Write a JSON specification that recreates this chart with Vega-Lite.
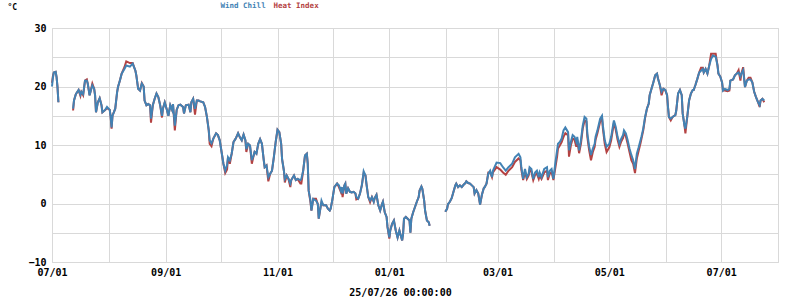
{
  "$schema": "https://vega.github.io/schema/vega-lite/v6.json",
  "autosize": {"type": "none"},
  "width": 726,
  "height": 234,
  "padding": {"left": 52, "top": 28, "right": 22, "bottom": 38},
  "background": "white",
  "config": {
    "view": {"stroke": "#d9d9d9", "strokeWidth": 1},
    "axis": {
      "labelFont": "DejaVu Sans Mono", "labelFontWeight": "bold", "labelFontSize": 10, "labelColor": "#000000",
      "titleFont": "DejaVu Sans Mono", "titleFontWeight": "bold", "titleColor": "#000000",
      "gridColor": "#d9d9d9", "gridWidth": 1, "gridOpacity": 1, "domain": false, "ticks": false
    }
  },
  "data": {"values": [
    {"t":"2025-07-01","w":20.0,"h":20.6},
    {"t":"2025-07-01T12:00Z","w":21.5,"h":21.8},
    {"t":"2025-07-02","w":22.4,"h":22.4},
    {"t":"2025-07-03","w":22.5,"h":22.5},
    {"t":"2025-07-03T12:00Z","w":21.6,"h":21.6},
    {"t":"2025-07-04","w":19.9,"h":19.9},
    {"t":"2025-07-04T12:00Z","w":17.3,"h":17.3},
    {"t":"2025-07-08","w":null,"h":null},
    {"t":"2025-07-12T12:00Z","w":16.2,"h":15.9},
    {"t":"2025-07-13","w":17.6,"h":17.6},
    {"t":"2025-07-14","w":18.7,"h":18.7},
    {"t":"2025-07-15T12:00Z","w":19.4,"h":19.4},
    {"t":"2025-07-16T12:00Z","w":18.6,"h":18.4},
    {"t":"2025-07-17","w":19.1,"h":19.1},
    {"t":"2025-07-18","w":18.7,"h":18.5},
    {"t":"2025-07-19","w":21.0,"h":21.0},
    {"t":"2025-07-20","w":21.0,"h":21.2},
    {"t":"2025-07-20T12:00Z","w":20.5,"h":20.5},
    {"t":"2025-07-21T12:00Z","w":18.5,"h":18.5},
    {"t":"2025-07-22","w":19.1,"h":19.1},
    {"t":"2025-07-23","w":20.2,"h":20.5},
    {"t":"2025-07-24","w":19.6,"h":19.6},
    {"t":"2025-07-24T12:00Z","w":18.5,"h":18.5},
    {"t":"2025-07-25","w":15.6,"h":15.6},
    {"t":"2025-07-26","w":17.3,"h":17.3},
    {"t":"2025-07-27","w":18.0,"h":18.0},
    {"t":"2025-07-28","w":16.8,"h":16.8},
    {"t":"2025-07-28T12:00Z","w":15.6,"h":15.6},
    {"t":"2025-07-30","w":16.0,"h":16.0},
    {"t":"2025-07-31","w":16.5,"h":16.3},
    {"t":"2025-08-01T12:00Z","w":16.0,"h":16.0},
    {"t":"2025-08-02","w":14.8,"h":14.8},
    {"t":"2025-08-02T12:00Z","w":13.0,"h":12.8},
    {"t":"2025-08-03","w":15.0,"h":15.0},
    {"t":"2025-08-04T12:00Z","w":16.2,"h":16.2},
    {"t":"2025-08-05T12:00Z","w":19.0,"h":19.0},
    {"t":"2025-08-06","w":19.9,"h":19.9},
    {"t":"2025-08-07","w":21.0,"h":21.0},
    {"t":"2025-08-08","w":22.2,"h":22.2},
    {"t":"2025-08-09T12:00Z","w":23.0,"h":23.3},
    {"t":"2025-08-10T12:00Z","w":23.6,"h":24.3},
    {"t":"2025-08-12T12:00Z","w":23.4,"h":24.0},
    {"t":"2025-08-14","w":23.9,"h":24.0},
    {"t":"2025-08-15T12:00Z","w":22.7,"h":22.7},
    {"t":"2025-08-16","w":21.9,"h":21.9},
    {"t":"2025-08-17","w":19.6,"h":19.6},
    {"t":"2025-08-18","w":19.3,"h":19.3},
    {"t":"2025-08-19","w":20.5,"h":20.6},
    {"t":"2025-08-20","w":20.0,"h":20.0},
    {"t":"2025-08-20T12:00Z","w":17.6,"h":17.6},
    {"t":"2025-08-21T12:00Z","w":16.8,"h":16.8},
    {"t":"2025-08-22T12:00Z","w":17.0,"h":17.0},
    {"t":"2025-08-23T12:00Z","w":16.8,"h":16.8},
    {"t":"2025-08-24","w":14.5,"h":13.8},
    {"t":"2025-08-25","w":16.8,"h":16.8},
    {"t":"2025-08-26","w":17.9,"h":17.9},
    {"t":"2025-08-27","w":18.8,"h":18.8},
    {"t":"2025-08-28","w":18.2,"h":18.2},
    {"t":"2025-08-29","w":16.8,"h":16.8},
    {"t":"2025-08-30","w":15.0,"h":14.7},
    {"t":"2025-08-30T12:00Z","w":16.2,"h":16.2},
    {"t":"2025-08-31T12:00Z","w":17.3,"h":17.3},
    {"t":"2025-09-01T12:00Z","w":16.2,"h":16.2},
    {"t":"2025-09-02T12:00Z","w":15.0,"h":15.0},
    {"t":"2025-09-03T12:00Z","w":16.8,"h":16.8},
    {"t":"2025-09-04T12:00Z","w":16.0,"h":16.0},
    {"t":"2025-09-05","w":17.0,"h":17.0},
    {"t":"2025-09-06","w":13.3,"h":12.5},
    {"t":"2025-09-07","w":16.0,"h":16.0},
    {"t":"2025-09-08","w":16.8,"h":16.8},
    {"t":"2025-09-09","w":16.9,"h":16.9},
    {"t":"2025-09-10T12:00Z","w":16.5,"h":16.5},
    {"t":"2025-09-11","w":15.4,"h":15.4},
    {"t":"2025-09-12","w":16.8,"h":16.8},
    {"t":"2025-09-13T12:00Z","w":16.9,"h":16.9},
    {"t":"2025-09-14T12:00Z","w":15.6,"h":15.6},
    {"t":"2025-09-15","w":17.3,"h":17.3},
    {"t":"2025-09-16","w":17.9,"h":17.9},
    {"t":"2025-09-17","w":16.2,"h":15.2},
    {"t":"2025-09-18","w":17.6,"h":17.6},
    {"t":"2025-09-19","w":17.6,"h":17.6},
    {"t":"2025-09-19T12:00Z","w":17.5,"h":17.5},
    {"t":"2025-09-21T12:00Z","w":17.3,"h":17.3},
    {"t":"2025-09-22T12:00Z","w":16.5,"h":16.5},
    {"t":"2025-09-23T12:00Z","w":14.8,"h":14.8},
    {"t":"2025-09-24T12:00Z","w":12.5,"h":12.5},
    {"t":"2025-09-25","w":10.8,"h":10.2},
    {"t":"2025-09-26","w":10.3,"h":9.8},
    {"t":"2025-09-27","w":11.1,"h":11.1},
    {"t":"2025-09-28T12:00Z","w":12.0,"h":12.0},
    {"t":"2025-09-29T12:00Z","w":11.7,"h":11.7},
    {"t":"2025-09-30T12:00Z","w":10.8,"h":10.8},
    {"t":"2025-10-01T12:00Z","w":8.8,"h":8.8},
    {"t":"2025-10-02T12:00Z","w":6.8,"h":6.8},
    {"t":"2025-10-03T12:00Z","w":5.6,"h":5.2},
    {"t":"2025-10-04T12:00Z","w":6.6,"h":5.8},
    {"t":"2025-10-05","w":7.9,"h":7.9},
    {"t":"2025-10-06","w":7.4,"h":6.8},
    {"t":"2025-10-07","w":8.5,"h":8.5},
    {"t":"2025-10-08","w":10.5,"h":10.5},
    {"t":"2025-10-09","w":11.0,"h":11.0},
    {"t":"2025-10-09T12:00Z","w":11.3,"h":11.3},
    {"t":"2025-10-10T12:00Z","w":12.0,"h":12.0},
    {"t":"2025-10-11T12:00Z","w":11.3,"h":11.3},
    {"t":"2025-10-12T12:00Z","w":10.8,"h":10.8},
    {"t":"2025-10-13T12:00Z","w":11.8,"h":11.8},
    {"t":"2025-10-14T12:00Z","w":10.8,"h":10.8},
    {"t":"2025-10-15","w":9.3,"h":8.8},
    {"t":"2025-10-16","w":10.2,"h":10.2},
    {"t":"2025-10-17","w":9.9,"h":9.9},
    {"t":"2025-10-18","w":7.4,"h":6.8},
    {"t":"2025-10-19","w":8.2,"h":8.2},
    {"t":"2025-10-19T12:00Z","w":8.8,"h":8.8},
    {"t":"2025-10-20T12:00Z","w":8.5,"h":8.5},
    {"t":"2025-10-21T12:00Z","w":10.2,"h":10.2},
    {"t":"2025-10-22T12:00Z","w":11.0,"h":11.0},
    {"t":"2025-10-23T12:00Z","w":10.2,"h":10.2},
    {"t":"2025-10-24T12:00Z","w":7.4,"h":7.4},
    {"t":"2025-10-25","w":6.2,"h":6.2},
    {"t":"2025-10-26","w":6.5,"h":6.5},
    {"t":"2025-10-27","w":4.5,"h":3.8},
    {"t":"2025-10-28","w":5.1,"h":5.1},
    {"t":"2025-10-29","w":5.6,"h":5.6},
    {"t":"2025-10-30","w":7.9,"h":7.9},
    {"t":"2025-10-31","w":10.5,"h":10.5},
    {"t":"2025-11-01","w":12.6,"h":12.6},
    {"t":"2025-11-02","w":12.2,"h":12.2},
    {"t":"2025-11-03","w":10.2,"h":10.2},
    {"t":"2025-11-03T12:00Z","w":7.6,"h":7.6},
    {"t":"2025-11-04T12:00Z","w":5.6,"h":5.6},
    {"t":"2025-11-05","w":4.2,"h":3.6},
    {"t":"2025-11-06","w":4.8,"h":4.8},
    {"t":"2025-11-07","w":4.2,"h":4.2},
    {"t":"2025-11-08","w":3.4,"h":2.8},
    {"t":"2025-11-08T12:00Z","w":4.0,"h":4.0},
    {"t":"2025-11-10","w":4.8,"h":4.8},
    {"t":"2025-11-11","w":4.0,"h":4.0},
    {"t":"2025-11-12","w":4.2,"h":4.2},
    {"t":"2025-11-13T12:00Z","w":4.0,"h":3.4},
    {"t":"2025-11-14","w":4.2,"h":3.4},
    {"t":"2025-11-15","w":5.6,"h":5.6},
    {"t":"2025-11-16","w":8.2,"h":8.2},
    {"t":"2025-11-17","w":8.5,"h":8.5},
    {"t":"2025-11-17T12:00Z","w":6.8,"h":6.8},
    {"t":"2025-11-18","w":2.2,"h":2.2},
    {"t":"2025-11-19","w":0.5,"h":0.2},
    {"t":"2025-11-19T12:00Z","w":-1.2,"h":-1.2},
    {"t":"2025-11-20T12:00Z","w":0.8,"h":0.8},
    {"t":"2025-11-22","w":0.5,"h":0.8},
    {"t":"2025-11-23","w":-0.1,"h":-0.1},
    {"t":"2025-11-23T12:00Z","w":-2.6,"h":-2.6},
    {"t":"2025-11-24T12:00Z","w":-0.6,"h":-0.6},
    {"t":"2025-11-25","w":0.5,"h":0.2},
    {"t":"2025-11-26","w":-0.3,"h":-0.3},
    {"t":"2025-11-27T12:00Z","w":-0.3,"h":-0.3},
    {"t":"2025-11-28T12:00Z","w":-0.9,"h":-0.9},
    {"t":"2025-11-29T12:00Z","w":-1.2,"h":-1.2},
    {"t":"2025-11-30","w":-0.9,"h":-0.9},
    {"t":"2025-12-01","w":0.8,"h":0.8},
    {"t":"2025-12-02","w":2.8,"h":2.8},
    {"t":"2025-12-03T12:00Z","w":3.4,"h":3.4},
    {"t":"2025-12-04T12:00Z","w":3.1,"h":2.8},
    {"t":"2025-12-05T12:00Z","w":2.2,"h":2.0},
    {"t":"2025-12-06","w":2.8,"h":2.8},
    {"t":"2025-12-06T12:00Z","w":1.7,"h":1.1},
    {"t":"2025-12-07T12:00Z","w":3.1,"h":3.1},
    {"t":"2025-12-08","w":3.4,"h":3.4},
    {"t":"2025-12-08T12:00Z","w":1.7,"h":1.7},
    {"t":"2025-12-09T12:00Z","w":2.6,"h":2.6},
    {"t":"2025-12-10T12:00Z","w":2.0,"h":2.0},
    {"t":"2025-12-11T12:00Z","w":1.9,"h":1.9},
    {"t":"2025-12-12T12:00Z","w":2.0,"h":2.0},
    {"t":"2025-12-13T12:00Z","w":1.7,"h":1.7},
    {"t":"2025-12-14","w":1.1,"h":0.7},
    {"t":"2025-12-15","w":0.8,"h":0.8},
    {"t":"2025-12-16","w":1.7,"h":1.7},
    {"t":"2025-12-17","w":3.1,"h":3.1},
    {"t":"2025-12-17T12:00Z","w":4.2,"h":4.2},
    {"t":"2025-12-18","w":5.5,"h":5.2},
    {"t":"2025-12-19","w":4.8,"h":4.8},
    {"t":"2025-12-19T12:00Z","w":3.4,"h":3.4},
    {"t":"2025-12-20T12:00Z","w":1.1,"h":1.1},
    {"t":"2025-12-21T12:00Z","w":0.5,"h":0.2},
    {"t":"2025-12-22T12:00Z","w":1.1,"h":1.1},
    {"t":"2025-12-23T12:00Z","w":0.3,"h":0.3},
    {"t":"2025-12-24","w":0.9,"h":0.9},
    {"t":"2025-12-25","w":1.5,"h":1.5},
    {"t":"2025-12-26","w":-0.3,"h":-0.3},
    {"t":"2025-12-27","w":-1.2,"h":-1.2},
    {"t":"2025-12-28","w":-0.1,"h":-0.1},
    {"t":"2025-12-28T12:00Z","w":0.3,"h":0.3},
    {"t":"2025-12-29T12:00Z","w":-1.5,"h":-1.5},
    {"t":"2025-12-30T12:00Z","w":-2.3,"h":-2.3},
    {"t":"2025-12-31","w":-4.0,"h":-4.0},
    {"t":"2026-01-01","w":-5.8,"h":-6.0},
    {"t":"2026-01-01T12:00Z","w":-4.6,"h":-4.6},
    {"t":"2026-01-02T12:00Z","w":-3.5,"h":-3.5},
    {"t":"2026-01-03T12:00Z","w":-2.9,"h":-2.9},
    {"t":"2026-01-04T12:00Z","w":-4.6,"h":-4.6},
    {"t":"2026-01-05T12:00Z","w":-5.8,"h":-5.8},
    {"t":"2026-01-06T12:00Z","w":-4.6,"h":-4.6},
    {"t":"2026-01-07","w":-5.2,"h":-5.2},
    {"t":"2026-01-08","w":-6.3,"h":-6.3},
    {"t":"2026-01-08T12:00Z","w":-5.2,"h":-5.2},
    {"t":"2026-01-09","w":-2.6,"h":-2.6},
    {"t":"2026-01-10","w":-2.3,"h":-2.3},
    {"t":"2026-01-11","w":-2.6,"h":-2.6},
    {"t":"2026-01-12","w":-2.9,"h":-2.9},
    {"t":"2026-01-12T12:00Z","w":-5.0,"h":-5.0},
    {"t":"2026-01-13","w":-2.6,"h":-2.6},
    {"t":"2026-01-14","w":-1.5,"h":-1.5},
    {"t":"2026-01-15","w":-0.6,"h":-0.6},
    {"t":"2026-01-16","w":0.3,"h":0.3},
    {"t":"2026-01-17","w":1.1,"h":1.1},
    {"t":"2026-01-17T12:00Z","w":2.2,"h":2.2},
    {"t":"2026-01-18T12:00Z","w":2.9,"h":2.9},
    {"t":"2026-01-19","w":2.5,"h":2.5},
    {"t":"2026-01-20","w":0.5,"h":0.5},
    {"t":"2026-01-20T12:00Z","w":-1.2,"h":-1.2},
    {"t":"2026-01-21T12:00Z","w":-2.9,"h":-2.9},
    {"t":"2026-01-22T12:00Z","w":-3.2,"h":-3.2},
    {"t":"2026-01-23","w":-3.8,"h":-3.8},
    {"t":"2026-01-27","w":null,"h":null},
    {"t":"2026-01-31T12:00Z","w":-1.4,"h":-1.4},
    {"t":"2026-02-01T12:00Z","w":-0.9,"h":-0.9},
    {"t":"2026-02-02","w":-0.1,"h":-0.1},
    {"t":"2026-02-03","w":0.3,"h":0.3},
    {"t":"2026-02-04","w":0.9,"h":0.9},
    {"t":"2026-02-05","w":2.0,"h":2.0},
    {"t":"2026-02-06","w":3.1,"h":3.1},
    {"t":"2026-02-06T12:00Z","w":3.4,"h":3.4},
    {"t":"2026-02-07T12:00Z","w":2.8,"h":2.8},
    {"t":"2026-02-08T12:00Z","w":3.1,"h":3.1},
    {"t":"2026-02-09T12:00Z","w":2.8,"h":2.8},
    {"t":"2026-02-10T12:00Z","w":3.2,"h":3.2},
    {"t":"2026-02-11T12:00Z","w":3.5,"h":3.5},
    {"t":"2026-02-12","w":3.8,"h":3.8},
    {"t":"2026-02-13","w":3.5,"h":3.5},
    {"t":"2026-02-14","w":3.4,"h":3.4},
    {"t":"2026-02-15","w":3.1,"h":3.1},
    {"t":"2026-02-16","w":2.8,"h":2.8},
    {"t":"2026-02-16T12:00Z","w":1.7,"h":1.7},
    {"t":"2026-02-17T12:00Z","w":2.3,"h":2.3},
    {"t":"2026-02-18T12:00Z","w":1.7,"h":1.7},
    {"t":"2026-02-19T12:00Z","w":-0.2,"h":-0.2},
    {"t":"2026-02-20T12:00Z","w":1.5,"h":1.5},
    {"t":"2026-02-21T12:00Z","w":2.6,"h":2.6},
    {"t":"2026-02-22","w":2.8,"h":2.8},
    {"t":"2026-02-23","w":3.4,"h":3.4},
    {"t":"2026-02-24","w":5.1,"h":5.3},
    {"t":"2026-02-25","w":5.6,"h":5.3},
    {"t":"2026-02-26","w":4.5,"h":4.5},
    {"t":"2026-02-26T12:00Z","w":5.6,"h":5.3},
    {"t":"2026-02-28T12:00Z","w":7.0,"h":6.2},
    {"t":"2026-03-02T12:00Z","w":6.9,"h":5.8},
    {"t":"2026-03-04","w":6.2,"h":5.3},
    {"t":"2026-03-05T12:00Z","w":5.6,"h":4.9},
    {"t":"2026-03-07","w":6.2,"h":5.6},
    {"t":"2026-03-09","w":6.8,"h":6.2},
    {"t":"2026-03-10T12:00Z","w":7.9,"h":7.1},
    {"t":"2026-03-12T12:00Z","w":8.5,"h":7.7},
    {"t":"2026-03-13T12:00Z","w":7.9,"h":7.4},
    {"t":"2026-03-14","w":6.2,"h":5.8},
    {"t":"2026-03-15","w":4.2,"h":4.0},
    {"t":"2026-03-16","w":5.9,"h":5.4},
    {"t":"2026-03-17","w":4.5,"h":4.2},
    {"t":"2026-03-18","w":5.1,"h":4.8},
    {"t":"2026-03-18T12:00Z","w":6.2,"h":5.8},
    {"t":"2026-03-19T12:00Z","w":5.9,"h":5.4},
    {"t":"2026-03-20T12:00Z","w":4.2,"h":4.0},
    {"t":"2026-03-21T12:00Z","w":5.3,"h":4.9},
    {"t":"2026-03-22T12:00Z","w":5.6,"h":5.1},
    {"t":"2026-03-23T12:00Z","w":4.5,"h":4.2},
    {"t":"2026-03-24","w":5.3,"h":4.8},
    {"t":"2026-03-25","w":4.5,"h":4.2},
    {"t":"2026-03-26T12:00Z","w":5.9,"h":5.3},
    {"t":"2026-03-28","w":6.2,"h":5.6},
    {"t":"2026-03-28T12:00Z","w":4.5,"h":4.0},
    {"t":"2026-03-29T12:00Z","w":5.6,"h":5.1},
    {"t":"2026-03-30T12:00Z","w":5.9,"h":5.4},
    {"t":"2026-03-31T12:00Z","w":4.2,"h":4.0},
    {"t":"2026-04-01T12:00Z","w":6.8,"h":6.0},
    {"t":"2026-04-02T12:00Z","w":9.1,"h":8.0},
    {"t":"2026-04-03","w":10.2,"h":9.4},
    {"t":"2026-04-04","w":10.5,"h":9.9},
    {"t":"2026-04-05","w":11.1,"h":10.5},
    {"t":"2026-04-06","w":12.5,"h":11.4},
    {"t":"2026-04-07","w":13.0,"h":12.0},
    {"t":"2026-04-08T12:00Z","w":12.2,"h":11.7},
    {"t":"2026-04-09","w":9.1,"h":8.0},
    {"t":"2026-04-10","w":10.5,"h":9.9},
    {"t":"2026-04-11","w":11.7,"h":11.1},
    {"t":"2026-04-12","w":11.4,"h":10.9},
    {"t":"2026-04-13","w":10.5,"h":9.7},
    {"t":"2026-04-13T12:00Z","w":11.4,"h":10.9},
    {"t":"2026-04-14T12:00Z","w":9.1,"h":8.6},
    {"t":"2026-04-15T12:00Z","w":10.8,"h":10.2},
    {"t":"2026-04-16T12:00Z","w":13.3,"h":12.8},
    {"t":"2026-04-17T12:00Z","w":14.8,"h":14.2},
    {"t":"2026-04-18T12:00Z","w":14.5,"h":14.0},
    {"t":"2026-04-19","w":12.0,"h":11.4},
    {"t":"2026-04-20","w":9.7,"h":9.1},
    {"t":"2026-04-21","w":8.3,"h":7.4},
    {"t":"2026-04-22","w":9.4,"h":8.8},
    {"t":"2026-04-23","w":10.2,"h":9.7},
    {"t":"2026-04-23T12:00Z","w":11.4,"h":10.9},
    {"t":"2026-04-24T12:00Z","w":12.5,"h":12.0},
    {"t":"2026-04-26","w":14.5,"h":14.0},
    {"t":"2026-04-27","w":15.0,"h":14.6},
    {"t":"2026-04-27T12:00Z","w":13.3,"h":12.8},
    {"t":"2026-04-28T12:00Z","w":10.8,"h":10.2},
    {"t":"2026-04-29T12:00Z","w":9.7,"h":8.8},
    {"t":"2026-05-01","w":10.2,"h":9.6},
    {"t":"2026-05-02","w":11.4,"h":10.8},
    {"t":"2026-05-03","w":13.3,"h":12.8},
    {"t":"2026-05-03T12:00Z","w":14.2,"h":13.8},
    {"t":"2026-05-04T12:00Z","w":13.1,"h":12.6},
    {"t":"2026-05-05T12:00Z","w":11.4,"h":10.9},
    {"t":"2026-05-06T12:00Z","w":10.2,"h":9.7},
    {"t":"2026-05-07T12:00Z","w":11.1,"h":10.6},
    {"t":"2026-05-08T12:00Z","w":11.7,"h":11.2},
    {"t":"2026-05-09","w":12.5,"h":12.0},
    {"t":"2026-05-10","w":12.0,"h":11.5},
    {"t":"2026-05-11","w":10.8,"h":10.2},
    {"t":"2026-05-12","w":9.4,"h":8.8},
    {"t":"2026-05-13","w":8.3,"h":7.4},
    {"t":"2026-05-14","w":7.4,"h":6.8},
    {"t":"2026-05-15","w":5.9,"h":5.2},
    {"t":"2026-05-16","w":8.5,"h":7.7},
    {"t":"2026-05-17","w":9.6,"h":9.0},
    {"t":"2026-05-18","w":10.8,"h":10.3},
    {"t":"2026-05-18T12:00Z","w":11.4,"h":11.0},
    {"t":"2026-05-19T12:00Z","w":12.8,"h":12.5},
    {"t":"2026-05-20T12:00Z","w":14.8,"h":14.6},
    {"t":"2026-05-21T12:00Z","w":16.2,"h":16.2},
    {"t":"2026-05-22T12:00Z","w":17.1,"h":17.1},
    {"t":"2026-05-23","w":18.5,"h":18.5},
    {"t":"2026-05-24","w":19.6,"h":19.6},
    {"t":"2026-05-25","w":20.7,"h":20.7},
    {"t":"2026-05-26","w":21.9,"h":21.9},
    {"t":"2026-05-27","w":22.2,"h":22.2},
    {"t":"2026-05-27T12:00Z","w":21.4,"h":21.4},
    {"t":"2026-05-28T12:00Z","w":20.3,"h":20.3},
    {"t":"2026-05-29T12:00Z","w":19.1,"h":18.5},
    {"t":"2026-05-30T12:00Z","w":19.6,"h":19.6},
    {"t":"2026-05-31T12:00Z","w":19.4,"h":19.4},
    {"t":"2026-06-01T12:00Z","w":18.5,"h":18.5},
    {"t":"2026-06-02","w":16.5,"h":16.5},
    {"t":"2026-06-02T12:00Z","w":14.8,"h":14.8},
    {"t":"2026-06-03T12:00Z","w":14.5,"h":14.2},
    {"t":"2026-06-04T12:00Z","w":14.8,"h":14.8},
    {"t":"2026-06-06","w":15.1,"h":15.1},
    {"t":"2026-06-06T12:00Z","w":15.9,"h":15.9},
    {"t":"2026-06-07T12:00Z","w":18.8,"h":18.8},
    {"t":"2026-06-08T12:00Z","w":19.4,"h":19.4},
    {"t":"2026-06-09T12:00Z","w":18.5,"h":18.5},
    {"t":"2026-06-10","w":15.4,"h":15.4},
    {"t":"2026-06-11","w":13.3,"h":13.3},
    {"t":"2026-06-11T12:00Z","w":12.8,"h":12.0},
    {"t":"2026-06-12T12:00Z","w":14.8,"h":14.8},
    {"t":"2026-06-13T12:00Z","w":17.6,"h":17.6},
    {"t":"2026-06-14T12:00Z","w":18.8,"h":18.8},
    {"t":"2026-06-15T12:00Z","w":19.4,"h":19.4},
    {"t":"2026-06-16","w":19.4,"h":19.4},
    {"t":"2026-06-17","w":20.3,"h":20.3},
    {"t":"2026-06-18","w":21.3,"h":21.3},
    {"t":"2026-06-19","w":22.4,"h":22.4},
    {"t":"2026-06-20","w":22.7,"h":23.2},
    {"t":"2026-06-21","w":23.0,"h":23.2},
    {"t":"2026-06-21T12:00Z","w":22.4,"h":22.4},
    {"t":"2026-06-22T12:00Z","w":23.0,"h":23.0},
    {"t":"2026-06-23T12:00Z","w":22.2,"h":22.2},
    {"t":"2026-06-24T12:00Z","w":23.6,"h":23.6},
    {"t":"2026-06-25T12:00Z","w":24.7,"h":25.6},
    {"t":"2026-06-26T12:00Z","w":25.3,"h":25.6},
    {"t":"2026-06-28","w":25.1,"h":25.6},
    {"t":"2026-06-29","w":23.6,"h":23.6},
    {"t":"2026-06-29T12:00Z","w":22.2,"h":22.2},
    {"t":"2026-06-30T12:00Z","w":21.7,"h":21.7},
    {"t":"2026-07-01T12:00Z","w":20.7,"h":20.7},
    {"t":"2026-07-02","w":19.3,"h":19.3},
    {"t":"2026-07-03","w":19.6,"h":19.3},
    {"t":"2026-07-04T12:00Z","w":19.4,"h":19.2},
    {"t":"2026-07-05T12:00Z","w":19.6,"h":19.3},
    {"t":"2026-07-06","w":21.0,"h":21.0},
    {"t":"2026-07-07T12:00Z","w":21.2,"h":21.2},
    {"t":"2026-07-08T12:00Z","w":21.9,"h":21.9},
    {"t":"2026-07-09T12:00Z","w":22.2,"h":22.2},
    {"t":"2026-07-10T12:00Z","w":22.4,"h":22.8},
    {"t":"2026-07-11T12:00Z","w":21.7,"h":21.0},
    {"t":"2026-07-12","w":22.2,"h":22.2},
    {"t":"2026-07-13","w":22.8,"h":23.3},
    {"t":"2026-07-14","w":19.9,"h":19.9},
    {"t":"2026-07-15","w":21.0,"h":21.0},
    {"t":"2026-07-16","w":21.2,"h":21.5},
    {"t":"2026-07-17","w":21.2,"h":21.5},
    {"t":"2026-07-18","w":20.7,"h":20.7},
    {"t":"2026-07-19","w":19.1,"h":19.1},
    {"t":"2026-07-20","w":18.2,"h":18.2},
    {"t":"2026-07-21","w":17.4,"h":17.4},
    {"t":"2026-07-22","w":16.8,"h":16.5},
    {"t":"2026-07-22T12:00Z","w":17.6,"h":17.6},
    {"t":"2026-07-23T12:00Z","w":17.9,"h":17.9},
    {"t":"2026-07-24T12:00Z","w":17.6,"h":17.3}
  ]},
  "transform": [{"fold": ["h", "w"], "as": ["series", "value"]}],
  "mark": {"type": "line", "strokeWidth": 2, "invalid": "break-paths-show-domains"},
  "encoding": {
    "x": {
      "field": "t", "type": "temporal",
      "scale": {"type": "utc", "domain": [{"year": 2025, "month": 7, "date": 1, "utc": true}, {"year": 2026, "month": 8, "date": 1, "utc": true}], "nice": false},
      "axis": {
        "values": [
          {"year": 2025, "month": 7, "date": 1, "utc": true},
          {"year": 2025, "month": 8, "date": 1, "utc": true},
          {"year": 2025, "month": 9, "date": 1, "utc": true},
          {"year": 2025, "month": 10, "date": 1, "utc": true},
          {"year": 2025, "month": 11, "date": 1, "utc": true},
          {"year": 2025, "month": 12, "date": 1, "utc": true},
          {"year": 2026, "month": 1, "date": 1, "utc": true},
          {"year": 2026, "month": 2, "date": 1, "utc": true},
          {"year": 2026, "month": 3, "date": 1, "utc": true},
          {"year": 2026, "month": 4, "date": 1, "utc": true},
          {"year": 2026, "month": 5, "date": 1, "utc": true},
          {"year": 2026, "month": 6, "date": 1, "utc": true},
          {"year": 2026, "month": 7, "date": 1, "utc": true},
          {"year": 2026, "month": 8, "date": 1, "utc": true}
        ],
        "labelExpr": "utcmonth(datum.value) % 2 == 0 ? utcFormat(datum.value, '%m/%d') : ''",
        "labelPadding": 5,
        "labelOverlap": false,
        "labelFlush": false,
        "labelAlign": "center",
        "title": "25/07/26 00:00:00",
        "titleFontSize": 10,
        "titleX": 348,
        "titleY": 33,
        "titleAnchor": null,
        "titleAlign": "center",
        "titleBaseline": "alphabetic"
      }
    },
    "y": {
      "field": "value", "type": "quantitative",
      "scale": {"domain": [-10, 30], "nice": false, "zero": false},
      "axis": {
        "values": [-10, -5, 0, 5, 10, 15, 20, 25, 30],
        "labelExpr": "datum.value % 10 == 0 ? datum.label : ''",
        "labelPadding": 6,
        "labelFlush": false,
        "title": "°C",
        "titleAngle": 0,
        "titleFontSize": 8,
        "titleX": -45,
        "titleY": -19,
        "titleAlign": "left",
        "titleBaseline": "alphabetic"
      }
    },
    "color": {
      "field": "series", "type": "nominal",
      "scale": {"domain": ["w", "h"], "range": ["#4282b4", "#b44242"]},
      "legend": {
        "orient": "none", "legendX": 161, "legendY": -26, "direction": "horizontal",
        "title": null, "padding": 0, "symbolSize": 0, "symbolOpacity": 0, "symbolStrokeWidth": 0,
        "labelOffset": 0, "columnPadding": 0,
        "labelFont": "DejaVu Sans Mono", "labelFontWeight": "bold", "labelFontSize": 7.5,
        "labelExpr": "datum.value == 'w' ? 'Wind Chill' : 'Heat Index'",
        "encode": {"labels": {"update": {"fill": {"signal": "datum.value == 'w' ? '#4282b4' : '#b44242'"}}}}
      }
    }
  }
}
